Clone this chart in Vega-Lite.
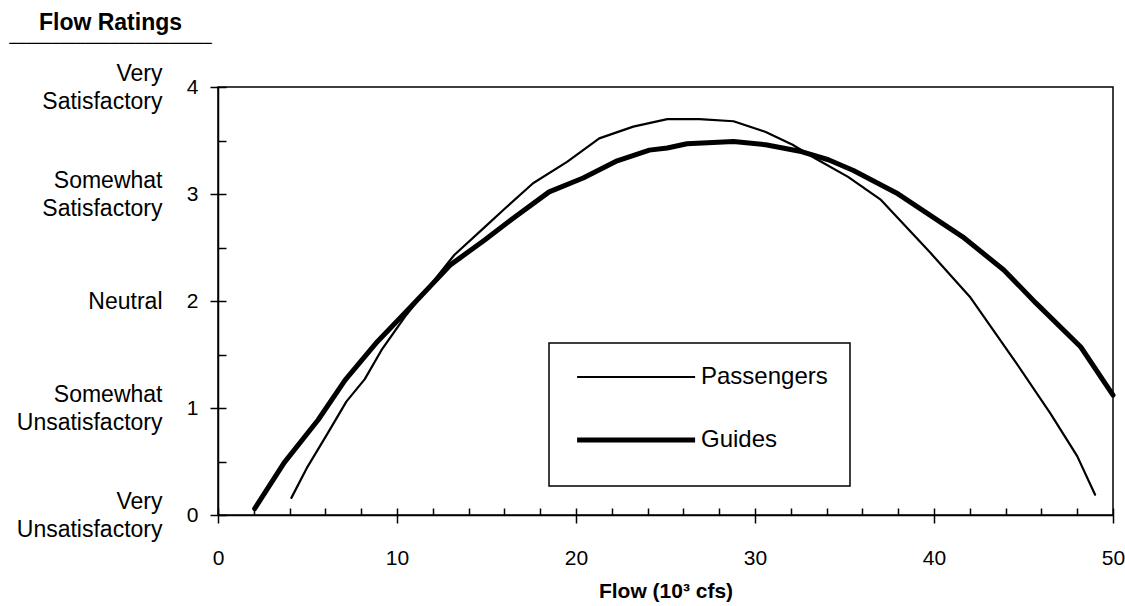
{
  "$schema": "https://vega.github.io/schema/vega-lite/v6.json",
  "width": 895,
  "height": 428,
  "autosize": {"type": "none"},
  "padding": {"left": 218, "top": 87, "right": 12, "bottom": 91},
  "background": "white",
  "config": {
    "view": {"stroke": "black", "strokeWidth": 1.5},
    "font": "Liberation Sans",
    "axis": {"grid": false, "domainColor": "black", "tickColor": "black", "labelColor": "black", "titleColor": "black", "labelFont": "Liberation Sans", "titleFont": "Liberation Sans", "domainWidth": 1.5, "tickWidth": 1.5}
  },
  "data": {"values": [
    {"series": "Passengers", "flow": 4.1, "rating": 0.16},
    {"series": "Passengers", "flow": 5.0, "rating": 0.45},
    {"series": "Passengers", "flow": 6.15, "rating": 0.77},
    {"series": "Passengers", "flow": 7.17, "rating": 1.06},
    {"series": "Passengers", "flow": 8.2, "rating": 1.27},
    {"series": "Passengers", "flow": 9.13, "rating": 1.54},
    {"series": "Passengers", "flow": 10.43, "rating": 1.85},
    {"series": "Passengers", "flow": 12.1, "rating": 2.2},
    {"series": "Passengers", "flow": 13.2, "rating": 2.43},
    {"series": "Passengers", "flow": 14.9, "rating": 2.69},
    {"series": "Passengers", "flow": 16.0, "rating": 2.86},
    {"series": "Passengers", "flow": 17.6, "rating": 3.1},
    {"series": "Passengers", "flow": 19.5, "rating": 3.3},
    {"series": "Passengers", "flow": 21.3, "rating": 3.52},
    {"series": "Passengers", "flow": 23.2, "rating": 3.63},
    {"series": "Passengers", "flow": 25.1, "rating": 3.7},
    {"series": "Passengers", "flow": 26.9, "rating": 3.7},
    {"series": "Passengers", "flow": 28.8, "rating": 3.68},
    {"series": "Passengers", "flow": 30.6, "rating": 3.58},
    {"series": "Passengers", "flow": 32.1, "rating": 3.46},
    {"series": "Passengers", "flow": 33.4, "rating": 3.33},
    {"series": "Passengers", "flow": 35.2, "rating": 3.16},
    {"series": "Passengers", "flow": 37.0, "rating": 2.95},
    {"series": "Passengers", "flow": 39.8, "rating": 2.45},
    {"series": "Passengers", "flow": 42.0, "rating": 2.04},
    {"series": "Passengers", "flow": 44.6, "rating": 1.42},
    {"series": "Passengers", "flow": 46.5, "rating": 0.95},
    {"series": "Passengers", "flow": 48.0, "rating": 0.55},
    {"series": "Passengers", "flow": 49.0, "rating": 0.19},
    {"series": "Guides", "flow": 2.05, "rating": 0.06},
    {"series": "Guides", "flow": 3.7, "rating": 0.49},
    {"series": "Guides", "flow": 5.6, "rating": 0.89},
    {"series": "Guides", "flow": 7.1, "rating": 1.26},
    {"series": "Guides", "flow": 8.9, "rating": 1.62},
    {"series": "Guides", "flow": 10.8, "rating": 1.95},
    {"series": "Guides", "flow": 13.0, "rating": 2.34},
    {"series": "Guides", "flow": 14.9, "rating": 2.57},
    {"series": "Guides", "flow": 16.7, "rating": 2.8},
    {"series": "Guides", "flow": 18.5, "rating": 3.02},
    {"series": "Guides", "flow": 20.4, "rating": 3.15},
    {"series": "Guides", "flow": 22.3, "rating": 3.31},
    {"series": "Guides", "flow": 24.1, "rating": 3.41},
    {"series": "Guides", "flow": 25.1, "rating": 3.43},
    {"series": "Guides", "flow": 26.2, "rating": 3.47},
    {"series": "Guides", "flow": 28.8, "rating": 3.49},
    {"series": "Guides", "flow": 30.6, "rating": 3.46},
    {"series": "Guides", "flow": 32.5, "rating": 3.4},
    {"series": "Guides", "flow": 34.1, "rating": 3.32},
    {"series": "Guides", "flow": 35.5, "rating": 3.22},
    {"series": "Guides", "flow": 37.9, "rating": 3.01},
    {"series": "Guides", "flow": 41.6, "rating": 2.6},
    {"series": "Guides", "flow": 43.9, "rating": 2.29},
    {"series": "Guides", "flow": 45.7, "rating": 1.98},
    {"series": "Guides", "flow": 48.2, "rating": 1.57},
    {"series": "Guides", "flow": 50.0, "rating": 1.12}
  ]},
  "layer": [
    {
      "mark": {"type": "line", "color": "black", "strokeCap": "round", "strokeJoin": "round"},
      "encoding": {
        "x": {"field": "flow", "type": "quantitative", "scale": {"domain": [0, 50], "nice": false},
          "axis": {"orient": "bottom", "values": [0, 10, 20, 30, 40, 50], "tickSize": 8, "labelFontSize": 21, "labelPadding": 41, "labelBaseline": "alphabetic", "labelFlush": false,
            "title": "Flow (10³ cfs)", "titleFontSize": 21, "titleFontWeight": "bold", "titleY": 82, "titleBaseline": "alphabetic"}},
        "y": {"field": "rating", "type": "quantitative", "scale": {"domain": [0, 4], "nice": false},
          "axis": {"orient": "left", "values": [0, 1, 2, 3, 4], "tickSize": 8, "labelFontSize": 21, "labelPadding": 12,
            "title": "────────────────────────", "titleFont": "DejaVu Sans Mono", "titleFontSize": 14, "titleFontWeight": "bold", "titleAngle": 0, "titleX": -108, "titleY": -40, "titleAlign": "center", "titleBaseline": "alphabetic"}},
        "detail": {"field": "series"},
        "strokeWidth": {"field": "series", "type": "ordinal", "scale": {"domain": ["Passengers", "Guides"], "range": [2.2, 5]},
          "legend": {"title": " ", "titleOrient": "bottom", "titleFontSize": 8, "titlePadding": 4, "orient": "none", "legendX": 331, "legendY": 256, "symbolType": "M-1,0H19", "symbolSize": 139.24, "symbolStrokeColor": "black", "symbolFillColor": "transparent", "labelOffset": 106, "labelFontSize": 24, "labelFont": "Liberation Sans", "labelColor": "black", "padding": 22, "rowPadding": 39, "strokeColor": "black",
            "encode": {"legend": {"update": {"strokeWidth": {"value": 1.5}}}}}}
      }
    },
    {
      "mark": {"type": "point", "opacity": 0},
      "encoding": {
        "x": {"field": "flow", "type": "quantitative", "axis": {"orient": "bottom", "values": [0, 2, 4, 6, 8, 10, 12, 14, 16, 18, 20, 22, 24, 26, 28, 30, 32, 34, 36, 38, 40, 42, 44, 46, 48, 50], "tickSize": -7, "labels": false, "domain": false, "title": null}},
        "y": {"field": "rating", "type": "quantitative", "axis": {"orient": "left", "values": [0, 0.5, 1, 1.5, 2, 2.5, 3, 3.5, 4], "tickSize": -8, "labels": false, "domain": false, "title": null}}
      }
    },
    {
      "mark": {"type": "point", "opacity": 0},
      "encoding": {
        "x": {"field": "flow", "type": "quantitative", "axis": null},
        "y": {"field": "rating", "type": "quantitative", "axis": {"orient": "left", "values": [0, 1, 2, 3, 4], "ticks": false, "tickSize": 0, "domain": false, "labelPadding": 56, "labelFontSize": 23, "labelLineHeight": 28, "labelAlign": "right", "labelBaseline": "middle",
          "labelOffset": {"condition": {"test": "datum.value == 2", "value": 0}, "value": -14},
          "labelExpr": "datum.value == 4 ? ['Very', 'Satisfactory'] : datum.value == 3 ? ['Somewhat', 'Satisfactory'] : datum.value == 2 ? 'Neutral' : datum.value == 1 ? ['Somewhat', 'Unsatisfactory'] : ['Very', 'Unsatisfactory']",
          "title": "Flow Ratings", "titleFontSize": 23, "titleFontWeight": "bold", "titleAngle": 0, "titleX": -108, "titleY": -58, "titleAlign": "center", "titleBaseline": "alphabetic"}}
      }
    }
  ],
  "resolve": {"axis": {"x": "independent", "y": "independent"}}
}
